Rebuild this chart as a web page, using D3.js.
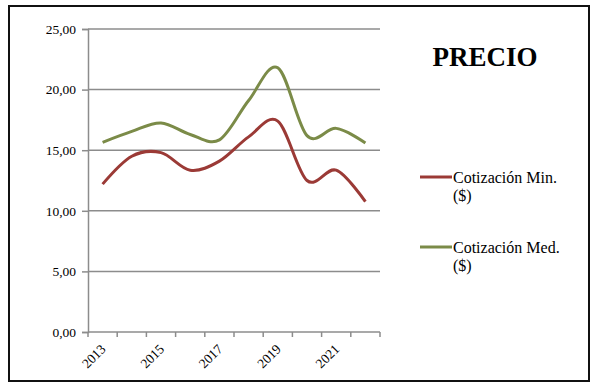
<!DOCTYPE html>
<html>
<head>
<meta charset="utf-8">
<script src="https://cdn.jsdelivr.net/npm/d3@7"></script>
<style>
  body { margin: 0; background: #fff; }
  text { font-family: "Liberation Serif", "Times New Roman", serif; fill: #000; }
</style>
</head>
<body>
<div id="chart"></div>
<script>
const years = ["2013", "2014", "2015", "2016", "2017", "2018", "2019", "2020", "2021", "2022"];
const tickYears = ["2013", "2015", "2017", "2019", "2021"];
const cotizMin = [12.2, 14.5, 14.8, 13.35, 14.1, 16.1, 17.4, 12.5, 13.35, 10.75];
const cotizMed = [15.65, 16.55, 17.25, 16.3, 15.85, 19.1, 21.8, 16.2, 16.8, 15.6];
const yTicks = [0, 5, 10, 15, 20, 25];
const seriesNames = ["Cotización Min.", "Cotización Med."];
const seriesColors = ["#9b3a36", "#7b8b48"];

const W = 591, H = 382;
const plot = { left: 88, right: 380, top: 29, bottom: 332 };

const svg = d3.select("#chart")
  .append("svg")
  .attr("width", W)
  .attr("height", H);

// outer frame
svg.append("rect")
  .attr("x", 9).attr("y", 6)
  .attr("width", 580).attr("height", 375)
  .attr("fill", "none")
  .attr("stroke", "#111")
  .attr("stroke-width", 2);

const x = d3.scaleBand().domain(years).range([plot.left, plot.right]);
const y = d3.scaleLinear().domain([0, 25]).range([plot.bottom, plot.top]);

// horizontal grid
svg.append("g")
  .selectAll("line")
  .data(yTicks.filter(d => d > 0))
  .join("line")
  .attr("x1", plot.left).attr("x2", plot.right)
  .attr("y1", d => y(d)).attr("y2", d => y(d))
  .attr("stroke", "#8c8c8c")
  .attr("stroke-width", 1.5);

// y axis
const yAxis = svg.append("g")
  .attr("transform", `translate(${plot.left},0)`)
  .call(d3.axisLeft(y).tickValues(yTicks).tickSize(6).tickPadding(6)
    .tickFormat(d => d3.format(".2f")(d).replace(".", ",")));
yAxis.select(".domain").attr("stroke", "#8c8c8c").attr("stroke-width", 1.5);
yAxis.selectAll(".tick line").attr("stroke", "#8c8c8c").attr("stroke-width", 1.5);
yAxis.selectAll("text")
  .style("font-family", '"Liberation Serif", "Times New Roman", serif')
  .style("font-size", "13.5px")
  .attr("fill", "#000");

// x axis line + ticks at category borders
const xg = svg.append("g");
xg.append("line")
  .attr("x1", plot.left).attr("x2", plot.right)
  .attr("y1", plot.bottom).attr("y2", plot.bottom)
  .attr("stroke", "#8c8c8c").attr("stroke-width", 1.5);
xg.selectAll("line.tk")
  .data(years.concat(["end"]))
  .join("line")
  .attr("class", "tk")
  .attr("x1", (d, i) => plot.left + i * x.bandwidth())
  .attr("x2", (d, i) => plot.left + i * x.bandwidth())
  .attr("y1", plot.bottom).attr("y2", plot.bottom + 5)
  .attr("stroke", "#8c8c8c").attr("stroke-width", 1.5);
xg.selectAll("text")
  .data(tickYears)
  .join("text")
  .attr("transform", d => `translate(${x(d) + x.bandwidth() / 2 + 4},${plot.bottom + 18}) rotate(-45)`)
  .attr("text-anchor", "end")
  .style("font-size", "13.5px")
  .text(d => d);

// lines
const line = d3.line()
  .x((d, i) => x(years[i]) + x.bandwidth() / 2)
  .y(d => y(d))
  .curve(d3.curveCatmullRom.alpha(0));

[cotizMin, cotizMed].forEach((s, k) => {
  svg.append("path")
    .datum(s)
    .attr("fill", "none")
    .attr("stroke", seriesColors[k])
    .attr("stroke-width", 3)
    .attr("stroke-linejoin", "round")
    .attr("d", line);
});

// title
svg.append("text")
  .attr("x", 485).attr("y", 66)
  .attr("text-anchor", "middle")
  .style("font-size", "27px")
  .style("font-weight", "bold")
  .text("PRECIO");

// legend
const legendY = [177, 247];
seriesNames.forEach((name, k) => {
  const g = svg.append("g").attr("transform", `translate(420,${legendY[k]})`);
  g.append("line")
    .attr("x1", 0).attr("x2", 32)
    .attr("y1", 0).attr("y2", 0)
    .attr("stroke", seriesColors[k])
    .attr("stroke-width", 3);
  const t = g.append("text")
    .attr("x", 33).attr("y", 6)
    .style("font-size", "16px");
  t.append("tspan").attr("x", 33).text(name);
  t.append("tspan").attr("x", 33).attr("dy", 18).text("($)");
});
</script>
</body>
</html>
